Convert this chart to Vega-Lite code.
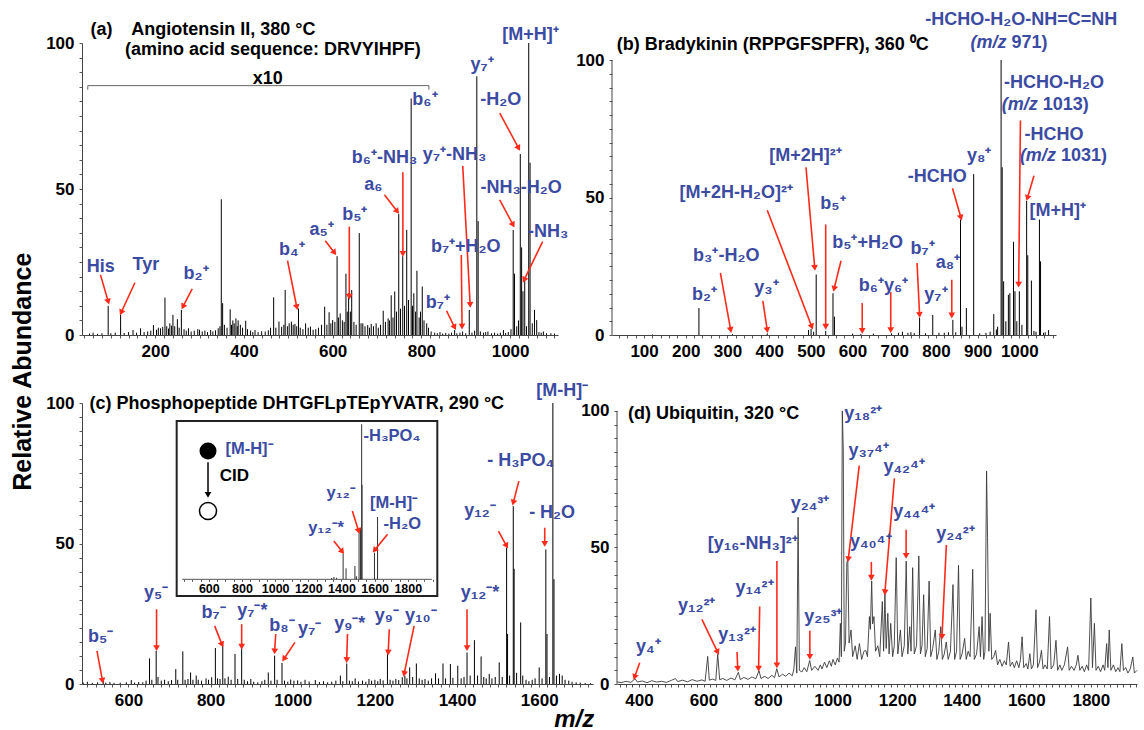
{
"$schema":"https://vega.github.io/schema/vega-lite/v6.json",
"padding":{"left":10,"top":11,"right":0,"bottom":0},
"config":{"font":"Liberation Sans","numberFormat":"d","view":{"stroke":null},
"axis":{"labelFont":"Liberation Sans","labelFontWeight":"bold","labelFontSize":17,"labelColor":"#000","domainColor":"#444","tickColor":"#555","tickSize":3,"grid":false,"labelOverlap":false,"labelPadding":5},
"text":{"font":"Liberation Sans"}},
"title":{"text":"Relative Abundance","orient":"left","anchor":"middle","fontSize":25,"fontWeight":"bold","font":"Liberation Sans","offset":10},
"vconcat":[{
"title":{"text":"m/z","orient":"bottom","anchor":"middle","fontSize":24,"fontWeight":"bold","fontStyle":"italic","font":"Liberation Sans","offset":0,"dx":-18},
"spacing":23,
"vconcat":[
{"hconcat":[
{"width":476,"height":292,
"encoding":{
"x":{"field":"x","type":"quantitative","title":null,"scale":{"domain":[35,1108],"nice":false,"zero":false},"axis":{"values":[40,60,80,100,120,140,160,180,200,220,240,260,280,300,320,340,360,380,400,420,440,460,480,500,520,540,560,580,600,620,640,660,680,700,720,740,760,780,800,820,840,860,880,900,920,940,960,980,1000,1020,1040,1060,1080,1100],"labelExpr":"datum.value % 200 === 0 ? datum.label : ''"}},
"y":{"field":"y","type":"quantitative","title":null,"scale":{"domain":[0,100],"nice":false},"axis":{"values":[0,5,10,15,20,25,30,35,40,45,50,55,60,65,70,75,80,85,90,95,100],"labelExpr":"datum.value % 50 === 0 ? datum.label : ''"}}},
"layer":[
{"data":{"name":"specA"},"mark":{"type":"rule","color":"#000","strokeWidth":1},"encoding":{"y2":{"datum":0}}},
{"data":{"name":"brA"},"mark":{"type":"rule","color":"#666","strokeWidth":1},"encoding":{"x2":{"field":"x2"},"y2":{"field":"y2"}}},
{"data":{"name":"arrA"},"mark":{"type":"rule","color":"#ff2a1a","strokeWidth":1.6},"encoding":{"x2":{"field":"x2"},"y2":{"field":"y2"}}},
{"data":{"name":"arrA"},"transform":[{"calculate":"atan2((datum.x2-datum.x)*0.4436,(datum.y2-datum.y)*2.92)*180/PI","as":"ang"}],"mark":{"type":"point","shape":"triangle-up","filled":true,"color":"#ff2a1a","size":45,"opacity":1},"encoding":{"x":{"field":"x2","type":"quantitative","title":null,"scale":{"domain":[35,1108],"nice":false,"zero":false}},"y":{"field":"y2","type":"quantitative","title":null,"scale":{"domain":[0,100],"nice":false}},"angle":{"field":"ang","type":"quantitative","scale":null}}},
{"data":{"name":"lblA"},"mark":{"type":"text","fontWeight":"bold","fontSize":18,"color":"#3b4ba2"},"encoding":{"text":{"field":"t"}}},
{"data":{"name":"ttlA"},"mark":{"type":"text","fontWeight":"bold","fontSize":18,"color":"#000","align":"left"},"encoding":{"text":{"field":"t"}}}
]},
{"width":444,"height":292,
"encoding":{
"x":{"field":"x","type":"quantitative","title":null,"scale":{"domain":[23,1088],"nice":false,"zero":false},"axis":{"values":[40,60,80,100,120,140,160,180,200,220,240,260,280,300,320,340,360,380,400,420,440,460,480,500,520,540,560,580,600,620,640,660,680,700,720,740,760,780,800,820,840,860,880,900,920,940,960,980,1000,1020,1040,1060,1080],"labelExpr":"datum.value % 100 === 0 ? datum.label : ''"}},
"y":{"field":"y","type":"quantitative","title":null,"scale":{"domain":[0,106.2],"nice":false},"axis":{"domain":false,"values":[0,5,10,15,20,25,30,35,40,45,50,55,60,65,70,75,80,85,90,95,100],"labelExpr":"datum.value % 50 === 0 ? datum.label : ''"}}},
"layer":[
{"data":{"values":[{"x":23,"y":0,"y2":100}]},"mark":{"type":"rule","color":"#444","strokeWidth":1},"encoding":{"y2":{"field":"y2"}}},
{"data":{"name":"specB"},"mark":{"type":"rule","color":"#000","strokeWidth":1},"encoding":{"y2":{"datum":0}}},
{"data":{"name":"arrB"},"mark":{"type":"rule","color":"#ff2a1a","strokeWidth":1.6},"encoding":{"x2":{"field":"x2"},"y2":{"field":"y2"}}},
{"data":{"name":"arrB"},"transform":[{"calculate":"atan2((datum.x2-datum.x)*0.4169,(datum.y2-datum.y)*2.75)*180/PI","as":"ang"}],"mark":{"type":"point","shape":"triangle-up","filled":true,"color":"#ff2a1a","size":45,"opacity":1},"encoding":{"x":{"field":"x2","type":"quantitative","title":null,"scale":{"domain":[23,1088],"nice":false,"zero":false}},"y":{"field":"y2","type":"quantitative","title":null,"scale":{"domain":[0,106.2],"nice":false}},"angle":{"field":"ang","type":"quantitative","scale":null}}},
{"data":{"name":"lblB"},"mark":{"type":"text","fontWeight":"bold","fontSize":18,"color":"#3b4ba2"},"encoding":{"text":{"field":"t"}}},
{"data":{"name":"mzB"},"mark":{"type":"text","fontWeight":"bold","fontStyle":"italic","fontSize":18,"color":"#3b4ba2","align":"right"},"encoding":{"text":{"field":"a"}}},
{"data":{"name":"mzB"},"mark":{"type":"text","fontWeight":"bold","fontSize":18,"color":"#3b4ba2","align":"left","dx":5},"encoding":{"text":{"field":"b"}}},
{"data":{"values":[{"x":34.3,"y":105.5,"t":"(b) Bradykinin (RPPGFSPFR), 360 ⁰C"}]},"mark":{"type":"text","fontWeight":"bold","fontSize":18,"color":"#000","align":"left"},"encoding":{"text":{"field":"t"}}}
]}
],"spacing":54,"bounds":"flush"},
{"hconcat":[
{"width":511,"height":281,
"resolve":{"scale":{"x":"independent","y":"independent"}},
"layer":[
{"encoding":{
"x":{"field":"x","type":"quantitative","title":null,"scale":{"domain":[487,1731],"nice":false,"zero":false},"axis":{"values":[500,520,540,560,580,600,620,640,660,680,700,720,740,760,780,800,820,840,860,880,900,920,940,960,980,1000,1020,1040,1060,1080,1100,1120,1140,1160,1180,1200,1220,1240,1260,1280,1300,1320,1340,1360,1380,1400,1420,1440,1460,1480,1500,1520,1540,1560,1580,1600,1620,1640,1660,1680,1700,1720],"labelExpr":"datum.value % 200 === 0 ? datum.label : ''"}},
"y":{"field":"y","type":"quantitative","title":null,"scale":{"domain":[0,100],"nice":false},"axis":{"values":[0,5,10,15,20,25,30,35,40,45,50,55,60,65,70,75,80,85,90,95,100],"labelExpr":"datum.value % 50 === 0 ? datum.label : ''"}}},
"layer":[
{"data":{"name":"specC"},"mark":{"type":"rule","color":"#000","strokeWidth":1},"encoding":{"y2":{"datum":0}}},
{"data":{"name":"arrC"},"mark":{"type":"rule","color":"#ff2a1a","strokeWidth":1.6},"encoding":{"x2":{"field":"x2"},"y2":{"field":"y2"}}},
{"data":{"name":"arrC"},"transform":[{"calculate":"atan2((datum.x2-datum.x)*0.4108,(datum.y2-datum.y)*2.81)*180/PI","as":"ang"}],"mark":{"type":"point","shape":"triangle-up","filled":true,"color":"#ff2a1a","size":45,"opacity":1},"encoding":{"x":{"field":"x2","type":"quantitative","title":null,"scale":{"domain":[487,1731],"nice":false,"zero":false}},"y":{"field":"y2","type":"quantitative","title":null,"scale":{"domain":[0,100],"nice":false}},"angle":{"field":"ang","type":"quantitative","scale":null}}},
{"data":{"name":"lblC"},"mark":{"type":"text","fontWeight":"bold","fontSize":18,"color":"#3b4ba2"},"encoding":{"text":{"field":"t"}}},
{"data":{"values":[{"x":505.4,"y":99.6,"t":"(c) Phosphopeptide DHTGFLpTEpYVATR, 290 °C"}]},"mark":{"type":"text","fontWeight":"bold","fontSize":18,"color":"#000","align":"left"},"encoding":{"text":{"field":"t"}}}
]},
{"encoding":{
"x":{"field":"x","type":"quantitative","title":null,"scale":{"domain":[-165,2917],"nice":false,"zero":false},"axis":{"orient":"bottom","offset":-104.7,"domain":false,"values":[450,500,550,600,650,700,750,800,850,900,950,1000,1050,1100,1150,1200,1250,1300,1350,1400,1450,1500,1550,1600,1650,1700,1750,1800,1850,1900,1950],"labelExpr":"(datum.value % 200 === 0 && datum.value >= 600 && datum.value <= 1800) ? datum.label : ''","labelFontSize":12.5,"tickSize":2,"labelPadding":1,"zindex":1}},
"y":{"field":"y","type":"quantitative","title":null,"scale":{"domain":[-67.5,113.7],"nice":false,"zero":false},"axis":null}},
"layer":[
{"data":{"values":[{"x":406,"x2":1978,"y":-10.8,"y2":102.1}]},"mark":{"type":"rect","fill":"#fff","stroke":"#222","strokeWidth":2},"encoding":{"x2":{"field":"x2"},"y2":{"field":"y2"}}},
{"data":{"values":[{"x":439,"x2":1945,"y":0}]},"mark":{"type":"rule","color":"#555","strokeWidth":1},"encoding":{"x2":{"field":"x2"}}},
{"data":{"name":"specI"},"mark":{"type":"rule","color":"#333","strokeWidth":1},"encoding":{"y2":{"datum":0}}},
{"data":{"name":"arrI"},"mark":{"type":"rule","color":"#ff2a1a","strokeWidth":1.6},"encoding":{"x2":{"field":"x2"},"y2":{"field":"y2"}}},
{"data":{"name":"arrI"},"transform":[{"calculate":"atan2((datum.x2-datum.x)*0.1658,(datum.y2-datum.y)*1.55)*180/PI","as":"ang"}],"mark":{"type":"point","shape":"triangle-up","filled":true,"color":"#ff2a1a","size":45,"opacity":1},"encoding":{"x":{"field":"x2","type":"quantitative","title":null,"scale":{"domain":[-165,2917],"nice":false,"zero":false}},"y":{"field":"y2","type":"quantitative","title":null,"scale":{"domain":[-67.5,113.7],"nice":false,"zero":false}},"angle":{"field":"ang","type":"quantitative","scale":null}}},
{"data":{"values":[{"x":595,"y":75.5,"x2":595,"y2":54.5}]},"mark":{"type":"rule","color":"#000","strokeWidth":1.5},"encoding":{"y2":{"field":"y2"}}},
{"data":{"values":[{"x":595,"y":54.5}]},"mark":{"type":"point","shape":"triangle-down","filled":true,"color":"#000","size":45,"opacity":1}},
{"data":{"values":[{"x":595,"y":82.8}]},"mark":{"type":"point","shape":"circle","filled":true,"color":"#000","size":290,"opacity":1}},
{"data":{"values":[{"x":595,"y":44.1}]},"mark":{"type":"point","shape":"circle","filled":true,"fill":"#fff","stroke":"#000","strokeWidth":1.5,"size":290,"opacity":1}},
{"data":{"values":[{"x":753.8,"y":66.6,"t":"CID"}]},"mark":{"type":"text","fontWeight":"bold","fontSize":17,"color":"#000"},"encoding":{"text":{"field":"t"}}},
{"data":{"name":"lblI"},"mark":{"type":"text","fontWeight":"bold","fontSize":16.5,"color":"#3b4ba2"},"encoding":{"text":{"field":"t"}}}
]}
]},
{"width":520,"height":281,
"encoding":{
"x":{"field":"x","type":"quantitative","title":null,"scale":{"domain":[332,1943],"nice":false,"zero":false},"axis":{"values":[340,360,380,400,420,440,460,480,500,520,540,560,580,600,620,640,660,680,700,720,740,760,780,800,820,840,860,880,900,920,940,960,980,1000,1020,1040,1060,1080,1100,1120,1140,1160,1180,1200,1220,1240,1260,1280,1300,1320,1340,1360,1380,1400,1420,1440,1460,1480,1500,1520,1540,1560,1580,1600,1620,1640,1660,1680,1700,1720,1740,1760,1780,1800,1820,1840,1860,1880,1900,1920,1940],"labelExpr":"(datum.value % 200 === 0 && datum.value <= 1800) ? datum.label : ''"}},
"y":{"field":"y","type":"quantitative","title":null,"scale":{"domain":[0,102.9],"nice":false},"axis":{"domain":false,"values":[0,5,10,15,20,25,30,35,40,45,50,55,60,65,70,75,80,85,90,95,100],"labelExpr":"datum.value % 50 === 0 ? datum.label : ''"}}},
"layer":[
{"data":{"values":[{"x":332,"y":0,"y2":100}]},"mark":{"type":"rule","color":"#444","strokeWidth":1},"encoding":{"y2":{"field":"y2"}}},
{"data":{"name":"specD"},"mark":{"type":"line","color":"#3a3a3a","strokeWidth":0.9},"encoding":{}},
{"data":{"name":"arrD"},"mark":{"type":"rule","color":"#ff2a1a","strokeWidth":1.6},"encoding":{"x2":{"field":"x2"},"y2":{"field":"y2"}}},
{"data":{"name":"arrD"},"transform":[{"calculate":"atan2((datum.x2-datum.x)*0.3228,(datum.y2-datum.y)*2.731)*180/PI","as":"ang"}],"mark":{"type":"point","shape":"triangle-up","filled":true,"color":"#ff2a1a","size":45,"opacity":1},"encoding":{"x":{"field":"x2","type":"quantitative","title":null,"scale":{"domain":[332,1943],"nice":false,"zero":false}},"y":{"field":"y2","type":"quantitative","title":null,"scale":{"domain":[0,102.9],"nice":false}},"angle":{"field":"ang","type":"quantitative","scale":null}}},
{"data":{"name":"lblD"},"mark":{"type":"text","fontWeight":"bold","fontSize":18,"color":"#3b4ba2"},"encoding":{"text":{"field":"t"}}},
{"data":{"values":[{"x":366,"y":99,"t":"(d) Ubiquitin, 320 °C"}]},"mark":{"type":"text","fontWeight":"bold","fontSize":18,"color":"#000","align":"left"},"encoding":{"text":{"field":"t"}}}
]}
],"spacing":24,"bounds":"flush"}
]}],
"datasets":{
"specA":[{"x":52,"y":0.5},{"x":60,"y":0.8},{"x":70,"y":0.4},{"x":80,"y":0.6},{"x":94,"y":10},{"x":100,"y":0.6},{"x":110,"y":0.8},{"x":122,"y":6.9},{"x":130,"y":0.7},{"x":140,"y":1.0},{"x":150,"y":1.7},{"x":158,"y":0.8},{"x":167,"y":2.3},{"x":175,"y":1.0},{"x":183,"y":1.2},{"x":190,"y":1.5},{"x":196,"y":3.4},{"x":203,"y":1.8},{"x":207,"y":2.5},{"x":212,"y":2.3},{"x":217,"y":2.8},{"x":222,"y":12.8},{"x":226,"y":3.0},{"x":230,"y":2.2},{"x":233,"y":4},{"x":237,"y":3.2},{"x":240,"y":6.9},{"x":244,"y":3.0},{"x":250,"y":5.4},{"x":254,"y":2.5},{"x":259,"y":8.6},{"x":265,"y":2.0},{"x":270,"y":1.5},{"x":275,"y":2.3},{"x":281,"y":1.2},{"x":288,"y":1.5},{"x":296,"y":2.0},{"x":300,"y":1.8},{"x":306,"y":1.2},{"x":312,"y":1.5},{"x":318,"y":1.0},{"x":325,"y":1.7},{"x":330,"y":1.2},{"x":336,"y":1.6},{"x":342,"y":2.3},{"x":346,"y":3.0},{"x":349,"y":46.5},{"x":352,"y":10.9},{"x":356,"y":3.5},{"x":362,"y":2.5},{"x":369,"y":8.8},{"x":372,"y":3.5},{"x":375,"y":5},{"x":378,"y":4.0},{"x":382,"y":5.7},{"x":385,"y":3.0},{"x":387,"y":5},{"x":392,"y":3.5},{"x":397,"y":2.5},{"x":404,"y":4.9},{"x":408,"y":2.0},{"x":415,"y":1.5},{"x":420,"y":1.0},{"x":425,"y":1.7},{"x":432,"y":1.0},{"x":440,"y":1.3},{"x":448,"y":1.2},{"x":455,"y":1.6},{"x":460,"y":2.5},{"x":467,"y":12.9},{"x":472,"y":2.5},{"x":479,"y":4.6},{"x":485,"y":2.8},{"x":490,"y":3.5},{"x":493,"y":15.4},{"x":498,"y":3.0},{"x":502,"y":4.0},{"x":507,"y":4.6},{"x":511,"y":3.5},{"x":515,"y":3.8},{"x":519,"y":3.0},{"x":523,"y":9.1},{"x":527,"y":2.5},{"x":533,"y":2.0},{"x":539,"y":4},{"x":545,"y":2.5},{"x":550,"y":2.9},{"x":556,"y":1.8},{"x":562,"y":2.0},{"x":568,"y":2.5},{"x":575,"y":3.5},{"x":582,"y":9.7},{"x":587,"y":3.5},{"x":592,"y":7.8},{"x":596,"y":4.0},{"x":600,"y":5.1},{"x":605,"y":4.5},{"x":610,"y":27},{"x":613,"y":6},{"x":617,"y":7.4},{"x":622,"y":5.0},{"x":626,"y":4.5},{"x":630,"y":21},{"x":633,"y":8},{"x":636,"y":14.3},{"x":640,"y":8},{"x":643,"y":15.4},{"x":648,"y":4.5},{"x":653,"y":3.5},{"x":660,"y":34.9},{"x":664,"y":4.0},{"x":668,"y":4},{"x":673,"y":3},{"x":679,"y":3.4},{"x":683,"y":2.5},{"x":687,"y":3.8},{"x":692,"y":3.0},{"x":698,"y":4},{"x":703,"y":2.5},{"x":708,"y":3.5},{"x":714,"y":8.3},{"x":719,"y":4.5},{"x":725,"y":5.7},{"x":728,"y":5.0},{"x":732,"y":13.6},{"x":736,"y":6},{"x":740,"y":14.9},{"x":744,"y":8},{"x":749,"y":41.4},{"x":753,"y":9},{"x":758,"y":27},{"x":762,"y":10},{"x":767,"y":36},{"x":771,"y":12},{"x":777,"y":81},{"x":780,"y":10},{"x":783,"y":14.3},{"x":787,"y":8},{"x":790,"y":22},{"x":795,"y":6},{"x":798,"y":8},{"x":802,"y":16.6},{"x":806,"y":5},{"x":812,"y":4},{"x":816,"y":2.5},{"x":822,"y":1.2},{"x":830,"y":0.8},{"x":836,"y":0.6},{"x":842,"y":1},{"x":848,"y":0.5},{"x":855,"y":0.7},{"x":862,"y":0.5},{"x":868,"y":0.8},{"x":875,"y":1.7},{"x":880,"y":0.6},{"x":887,"y":0.8},{"x":893,"y":1.2},{"x":900,"y":0.6},{"x":908,"y":8.6},{"x":914,"y":0.8},{"x":920,"y":1.5},{"x":925,"y":88.6},{"x":928,"y":39},{"x":933,"y":1.2},{"x":940,"y":0.8},{"x":945,"y":1.0},{"x":950,"y":1.2},{"x":958,"y":0.6},{"x":965,"y":0.8},{"x":972,"y":0.5},{"x":978,"y":0.8},{"x":985,"y":1.7},{"x":990,"y":0.7},{"x":996,"y":1.0},{"x":1002,"y":2.0},{"x":1007,"y":36},{"x":1010,"y":21},{"x":1015,"y":3},{"x":1019,"y":5},{"x":1023,"y":62},{"x":1026,"y":30},{"x":1029,"y":15},{"x":1033,"y":18.9},{"x":1037,"y":3},{"x":1042,"y":100},{"x":1045,"y":59},{"x":1050,"y":4},{"x":1055,"y":8.6},{"x":1060,"y":5.1},{"x":1065,"y":1.0},{"x":1070,"y":0.8},{"x":1075,"y":1.2},{"x":1082,"y":0.6},{"x":1092,"y":0.6},{"x":1100,"y":0.5}],
"brA":[{"x":48,"y":85.4,"x2":817,"y2":85.4},{"x":48,"y":85.4,"x2":48,"y2":84},{"x":817,"y":85.4,"x2":817,"y2":84}],
"arrA":[{"x":76.7,"y":20.6,"x2":94.2,"y2":11.4},{"x":154.2,"y":17.9,"x2":123.3,"y2":7.7},{"x":283.3,"y":15.8,"x2":262.5,"y2":9.7},{"x":498.3,"y":25.5,"x2":519.2,"y2":9.5},{"x":583.3,"y":32.3,"x2":604.2,"y2":28.2},{"x":637.5,"y":37.1,"x2":637.5,"y2":13.1},{"x":716.7,"y":48,"x2":745.8,"y2":42.3},{"x":758.3,"y":55.7,"x2":758.3,"y2":27.8},{"x":893.3,"y":57.9,"x2":910,"y2":10.3},{"x":890,"y":27.4,"x2":891.7,"y2":2.9},{"x":856.7,"y":8.3,"x2":875,"y2":2.6},{"x":976.7,"y":76,"x2":1019.2,"y2":64},{"x":976.7,"y":46.3,"x2":1006.7,"y2":37.7},{"x":1073.3,"y":32,"x2":1031.7,"y2":18.9}],
"lblA":[{"x":77.5,"y":23.4,"t":"His"},{"x":179,"y":24,"t":"Tyr"},{"x":292,"y":21,"t":"b₂⁺"},{"x":508,"y":29,"t":"b₄⁺"},{"x":575,"y":36,"t":"a₅⁺"},{"x":650,"y":41,"t":"b₅⁺"},{"x":692,"y":51.4,"t":"a₆"},{"x":717,"y":60.6,"t":"b₆⁺-NH₃"},{"x":808,"y":80.6,"t":"b₆⁺"},{"x":937,"y":92.6,"t":"y₇⁺"},{"x":1046,"y":102.9,"t":"[M+H]⁺"},{"x":979,"y":80.6,"t":"-H₂O"},{"x":875,"y":61.7,"t":"y₇⁺-NH₃"},{"x":1025,"y":50.3,"t":"-NH₃-H₂O"},{"x":1086,"y":35.4,"t":"-NH₃"},{"x":900,"y":30.3,"t":"b₇⁺+H₂O"},{"x":837,"y":10.9,"t":"b₇⁺"}],
"ttlA":[{"x":54,"y":104.6,"t":"(a)"},{"x":146,"y":104.6,"t":"Angiotensin II, 380 °C"},{"x":132,"y":97.5,"t":"(amino acid sequence: DRVYIHPF)"},{"x":420,"y":87.8,"t":"x10"}],
"specB":[{"x":120,"y":0.2},{"x":231.5,"y":9.8},{"x":312,"y":0.3},{"x":395.4,"y":0.6},{"x":494.4,"y":1.8},{"x":500.5,"y":2.2},{"x":506.7,"y":1.2},{"x":512.8,"y":22},{"x":535.6,"y":1.5},{"x":553.1,"y":15.2},{"x":556.6,"y":6.7},{"x":600,"y":0.5},{"x":620,"y":0.4},{"x":650,"y":0.5},{"x":693.3,"y":0.6},{"x":710,"y":0.8},{"x":719.6,"y":1.2},{"x":732.8,"y":0.8},{"x":740,"y":1.0},{"x":748,"y":0.7},{"x":760.8,"y":6.3},{"x":775,"y":0.6},{"x":792.4,"y":7.3},{"x":807.3,"y":0.8},{"x":820,"y":0.8},{"x":830,"y":1.0},{"x":840.6,"y":5.5},{"x":847.6,"y":1.0},{"x":859,"y":42},{"x":862.5,"y":3},{"x":873,"y":9.8},{"x":890.5,"y":58.5},{"x":905,"y":0.6},{"x":920,"y":0.8},{"x":930,"y":1.2},{"x":938.7,"y":7.6},{"x":945,"y":2},{"x":948,"y":3.0},{"x":956.3,"y":100},{"x":958.9,"y":61},{"x":962.4,"y":19.5},{"x":967.7,"y":5},{"x":973.8,"y":14.6},{"x":977.3,"y":15.2},{"x":986.1,"y":33.9},{"x":989.6,"y":15.9},{"x":994,"y":5},{"x":1000.1,"y":15.9},{"x":1006.2,"y":3.7},{"x":1017.6,"y":48.8},{"x":1020.3,"y":29},{"x":1029,"y":19.8},{"x":1035.1,"y":1.5},{"x":1040,"y":1.2},{"x":1048.3,"y":42},{"x":1050.9,"y":26.8},{"x":1058,"y":0.8},{"x":1062,"y":1.0},{"x":1070.2,"y":1.8}],
"arrB":[{"x":283,"y":22.6,"x2":307.7,"y2":1.8},{"x":384.8,"y":12.4,"x2":395.4,"y2":1.8},{"x":395.4,"y":45.4,"x2":502.3,"y2":3},{"x":488.3,"y":61,"x2":509.3,"y2":24.4},{"x":535.6,"y":40.2,"x2":535.6,"y2":3},{"x":572.4,"y":27,"x2":555.7,"y2":16.8},{"x":623.2,"y":11.6,"x2":623.2,"y2":1.5},{"x":691.6,"y":15.6,"x2":691.6,"y2":1.8},{"x":754.7,"y":26.2,"x2":760.8,"y2":7.3},{"x":838,"y":20.1,"x2":838,"y2":7.1},{"x":839.7,"y":53.4,"x2":859.9,"y2":42.7},{"x":1002.7,"y":78,"x2":998.4,"y2":18.3},{"x":1035.1,"y":57.9,"x2":1019.4,"y2":49.8}],
"lblB":[{"x":1004.5,"y":114.4,"t":"-HCHO-H₂O-NH=C=NH"},{"x":1083,"y":91.5,"t":"-HCHO-H₂O"},{"x":1083,"y":72.9,"t":"-HCHO"},{"x":1092,"y":45.1,"t":"[M+H]⁺"},{"x":903.7,"y":65.2,"t":"y₈⁺"},{"x":803,"y":57.3,"t":"-HCHO"},{"x":487,"y":65.2,"t":"[M+2H]²⁺"},{"x":321,"y":51.8,"t":"[M+2H-H₂O]²⁺"},{"x":553,"y":47.6,"t":"b₅⁺"},{"x":636,"y":33.5,"t":"b₅⁺+H₂O"},{"x":297,"y":28.7,"t":"b₃⁺-H₂O"},{"x":244.6,"y":14.6,"t":"b₂⁺"},{"x":393.6,"y":17.1,"t":"y₃⁺"},{"x":674,"y":17.7,"t":"b₆⁺y₆⁺"},{"x":768,"y":31.1,"t":"b₇⁺"},{"x":800,"y":14.6,"t":"y₇⁺"},{"x":829,"y":26.2,"t":"a₈⁺"}],
"mzB":[{"x":969,"y":106.3,"a":"(m/z","b":"971)"},{"x":1044,"y":83.5,"a":"(m/z","b":"1013)"},{"x":1087.7,"y":65.2,"a":"(m/z","b":"1031)"}],
"specC":[{"x":490,"y":0.5},{"x":500,"y":0.8},{"x":512,"y":0.4},{"x":525,"y":0.6},{"x":538.7,"y":1.2},{"x":545,"y":0.5},{"x":555,"y":0.7},{"x":565,"y":0.4},{"x":580,"y":0.5},{"x":595,"y":0.6},{"x":607,"y":1.4},{"x":615,"y":0.5},{"x":625,"y":0.7},{"x":635,"y":0.6},{"x":643,"y":1.2},{"x":651.4,"y":9.1},{"x":657,"y":1.5},{"x":667.6,"y":11.8},{"x":672,"y":2.5},{"x":680,"y":1.2},{"x":688,"y":1.5},{"x":697,"y":1.0},{"x":705,"y":1.4},{"x":715.3,"y":5.3},{"x":720,"y":1.5},{"x":732.4,"y":11.6},{"x":738,"y":1.5},{"x":745,"y":1.8},{"x":751.4,"y":4.1},{"x":757,"y":1.5},{"x":765,"y":3},{"x":770,"y":1.5},{"x":778,"y":1.2},{"x":789,"y":2},{"x":795,"y":1.5},{"x":802.7,"y":2.4},{"x":811.7,"y":12.8},{"x":817,"y":2.0},{"x":823,"y":1.8},{"x":829.7,"y":14},{"x":835,"y":2.0},{"x":843,"y":2.6},{"x":850,"y":1.5},{"x":859.5,"y":10.7},{"x":866,"y":1.8},{"x":875.7,"y":12.8},{"x":882,"y":1.5},{"x":890,"y":1.0},{"x":898,"y":1.8},{"x":905,"y":0.8},{"x":915,"y":0.6},{"x":925,"y":1.0},{"x":932,"y":1.5},{"x":940.5,"y":4.1},{"x":947,"y":1.2},{"x":955.9,"y":10.1},{"x":962,"y":1.5},{"x":973.9,"y":7.5},{"x":980,"y":1.2},{"x":988,"y":0.8},{"x":995,"y":1.6},{"x":1003,"y":1.2},{"x":1012,"y":1.3},{"x":1020,"y":0.8},{"x":1030,"y":1.5},{"x":1040,"y":0.9},{"x":1055,"y":1.4},{"x":1065,"y":0.7},{"x":1075,"y":1.0},{"x":1085,"y":0.6},{"x":1095,"y":0.8},{"x":1105,"y":1.2},{"x":1116,"y":3},{"x":1122,"y":1.0},{"x":1131.5,"y":7.3},{"x":1138,"y":1.2},{"x":1145,"y":1.0},{"x":1152,"y":2},{"x":1160,"y":0.9},{"x":1170,"y":1.2},{"x":1178,"y":0.8},{"x":1185.6,"y":1.8},{"x":1192,"y":1.2},{"x":1200,"y":1.5},{"x":1207,"y":1.0},{"x":1213,"y":1.8},{"x":1220,"y":1.3},{"x":1230.6,"y":10.7},{"x":1237,"y":1.5},{"x":1244,"y":1.2},{"x":1251,"y":1.8},{"x":1258,"y":1.4},{"x":1266.7,"y":2.4},{"x":1273,"y":3},{"x":1278,"y":2.0},{"x":1284.7,"y":5.9},{"x":1292,"y":2.5},{"x":1301,"y":7.3},{"x":1308,"y":2.0},{"x":1315,"y":1.5},{"x":1322,"y":1.8},{"x":1330,"y":1.2},{"x":1338,"y":2.0},{"x":1347.7,"y":3.8},{"x":1355,"y":2.0},{"x":1365.8,"y":7.3},{"x":1372,"y":2.0},{"x":1383.8,"y":7.1},{"x":1390,"y":2.2},{"x":1401.8,"y":6.5},{"x":1410,"y":2.0},{"x":1417,"y":2.5},{"x":1424.3,"y":11.2},{"x":1432,"y":3.0},{"x":1442.3,"y":15.6},{"x":1450,"y":3.0},{"x":1458.6,"y":9.8},{"x":1465,"y":2.5},{"x":1471,"y":2.0},{"x":1478.4,"y":3.6},{"x":1485,"y":2.0},{"x":1493,"y":2.5},{"x":1502.7,"y":7.7},{"x":1510,"y":2.5},{"x":1520.7,"y":48.5},{"x":1523,"y":17.8},{"x":1528,"y":3},{"x":1536.9,"y":63.3},{"x":1539,"y":41},{"x":1545,"y":4},{"x":1554.9,"y":21.9},{"x":1560,"y":3},{"x":1568,"y":1.5},{"x":1575,"y":1.0},{"x":1583,"y":1.5},{"x":1590,"y":2.0},{"x":1600,"y":5.9},{"x":1607,"y":2},{"x":1616.2,"y":47.9},{"x":1619,"y":17.8},{"x":1625,"y":2.5},{"x":1633.3,"y":100},{"x":1636,"y":37.3},{"x":1642,"y":3},{"x":1649.5,"y":3.6},{"x":1656,"y":3},{"x":1663,"y":1.5},{"x":1672,"y":1.2},{"x":1680,"y":0.8},{"x":1690,"y":0.6},{"x":1700,"y":0.5},{"x":1712,"y":0.4},{"x":1725,"y":0.3}],
"arrC":[{"x":523.4,"y":11.8,"x2":536.9,"y2":1.2},{"x":668.5,"y":26.6,"x2":668.5,"y2":12.8},{"x":809.9,"y":20.7,"x2":827.9,"y2":14},{"x":875.7,"y":21.3,"x2":875.7,"y2":13.3},{"x":958.6,"y":17.8,"x2":955.9,"y2":11.6},{"x":1005.4,"y":14.8,"x2":978.4,"y2":8.9},{"x":1133.3,"y":17.8,"x2":1131.5,"y2":8.5},{"x":1235.1,"y":19.5,"x2":1232.4,"y2":11.2},{"x":1295.5,"y":20.7,"x2":1271.2,"y2":3.6},{"x":1424.3,"y":26.6,"x2":1424.3,"y2":12.8},{"x":1500.9,"y":54.4,"x2":1520.7,"y2":49.1},{"x":1550.5,"y":72.2,"x2":1536.9,"y2":64.5},{"x":1613.5,"y":55.6,"x2":1613.5,"y2":49.9}],
"lblC":[{"x":1656,"y":104.1,"t":"[M-H]⁻"},{"x":1555,"y":79.3,"t":"- H₃PO₄"},{"x":1456,"y":61.5,"t":"y₁₂⁻"},{"x":1631.5,"y":61,"t":"- H₂O"},{"x":1456,"y":32.5,"t":"y₁₂⁻*"},{"x":667.6,"y":32.5,"t":"y₅⁻"},{"x":532.4,"y":16.6,"t":"b₅⁻"},{"x":807.2,"y":25.4,"t":"b₇⁻"},{"x":901.8,"y":26,"t":"y₇⁻*"},{"x":973.9,"y":20.7,"t":"b₈⁻"},{"x":1041.4,"y":19.5,"t":"y₇⁻"},{"x":1138.7,"y":21.3,"t":"y₉⁻*"},{"x":1228.8,"y":24.3,"t":"y₉⁻"},{"x":1311.7,"y":24.3,"t":"y₁₀⁻"}],
"specI":[{"x":1340,"y":0.8},{"x":1354,"y":1.5},{"x":1370,"y":1.0},{"x":1410,"y":16.6},{"x":1427.6,"y":7.1},{"x":1481,"y":8.6},{"x":1490,"y":2},{"x":1506,"y":30.8},{"x":1514.6,"y":33},{"x":1521.6,"y":100},{"x":1524,"y":61},{"x":1599,"y":17.2},{"x":1617.5,"y":40.2}],
"arrI":[{"x":1465.5,"y":44.1,"x2":1503.5,"y2":31.2},{"x":1354,"y":24.7,"x2":1405,"y2":17.8},{"x":1677.6,"y":29,"x2":1599.4,"y2":18.7}],
"lblI":[{"x":845.5,"y":83.9,"t":"[M-H]⁻"},{"x":1704,"y":92.5,"t":"-H₃PO₄"},{"x":1398.6,"y":55.9,"t":"y₁₂⁻"},{"x":1717.6,"y":49.4,"t":"[M-H]⁻"},{"x":1767,"y":35.5,"t":"-H₂O"},{"x":1307,"y":33.3,"t":"y₁₂⁻*"}],
"specD":[{"x":332,"y":0.8},{"x":345,"y":0.5},{"x":360,"y":1.0},{"x":375,"y":0.6},{"x":388,"y":1.9},{"x":395,"y":0.7},{"x":410,"y":1.1},{"x":425,"y":0.5},{"x":440,"y":1.2},{"x":455,"y":0.7},{"x":470,"y":1.0},{"x":485,"y":0.6},{"x":500,"y":1.3},{"x":513,"y":2.0},{"x":520,"y":0.9},{"x":535,"y":1.4},{"x":550,"y":0.8},{"x":565,"y":1.6},{"x":580,"y":1.0},{"x":595,"y":1.5},{"x":605,"y":1.0},{"x":613,"y":10.1},{"x":618,"y":1.4},{"x":628,"y":1.8},{"x":638,"y":1.3},{"x":644,"y":10.9},{"x":650,"y":1.6},{"x":660,"y":2.0},{"x":672,"y":1.3},{"x":685,"y":2.2},{"x":697,"y":1.5},{"x":708,"y":4.3},{"x":714,"y":1.6},{"x":725,"y":2.4},{"x":738,"y":1.7},{"x":750,"y":2.6},{"x":762,"y":1.9},{"x":772,"y":4.9},{"x":778,"y":2.0},{"x":790,"y":2.8},{"x":800,"y":2.0},{"x":812,"y":3.2},{"x":820,"y":2.3},{"x":827,"y":5.6},{"x":834,"y":2.6},{"x":845,"y":3.6},{"x":855,"y":2.8},{"x":865,"y":4.0},{"x":875,"y":3.0},{"x":880,"y":5.5},{"x":885,"y":13.6},{"x":889,"y":4},{"x":893,"y":61.1},{"x":897,"y":5.0},{"x":905,"y":4.4},{"x":912,"y":6.0},{"x":920,"y":4.5},{"x":929,"y":8.6},{"x":935,"y":5.0},{"x":945,"y":6.5},{"x":955,"y":5.0},{"x":962,"y":7.0},{"x":967,"y":5.5},{"x":975,"y":8.0},{"x":982,"y":6.0},{"x":990,"y":8.5},{"x":996,"y":6.5},{"x":1001,"y":9.0},{"x":1008,"y":7.0},{"x":1015,"y":9.5},{"x":1020,"y":8},{"x":1024,"y":22.2},{"x":1027,"y":10},{"x":1030,"y":100},{"x":1033,"y":86},{"x":1036,"y":12},{"x":1040,"y":15},{"x":1044,"y":44.4},{"x":1047,"y":45.7},{"x":1051,"y":15},{"x":1057,"y":19.8},{"x":1062,"y":10},{"x":1070,"y":14},{"x":1076,"y":9},{"x":1083,"y":14.8},{"x":1090,"y":9},{"x":1097,"y":12},{"x":1103,"y":12.3},{"x":1108,"y":10},{"x":1114,"y":24.7},{"x":1117,"y":20},{"x":1121,"y":37.7},{"x":1124,"y":22},{"x":1128,"y":24.7},{"x":1133,"y":12},{"x":1140,"y":14},{"x":1146,"y":10},{"x":1154,"y":30.2},{"x":1158,"y":12},{"x":1162,"y":33.3},{"x":1166,"y":13},{"x":1171,"y":25.9},{"x":1175,"y":11},{"x":1180,"y":22.2},{"x":1186,"y":10},{"x":1191,"y":14},{"x":1197,"y":46.3},{"x":1202,"y":11},{"x":1210,"y":19.8},{"x":1215,"y":10},{"x":1222,"y":14},{"x":1228,"y":45},{"x":1233,"y":11},{"x":1239,"y":21},{"x":1243,"y":12},{"x":1248,"y":42.6},{"x":1253,"y":11},{"x":1260,"y":14},{"x":1267,"y":46.9},{"x":1272,"y":11},{"x":1277,"y":14},{"x":1282,"y":32.7},{"x":1287,"y":10},{"x":1293,"y":13},{"x":1299,"y":37.7},{"x":1304,"y":10},{"x":1310,"y":13},{"x":1318,"y":19.8},{"x":1323,"y":9},{"x":1329,"y":12},{"x":1335,"y":21},{"x":1340,"y":9},{"x":1346,"y":11},{"x":1352,"y":15.4},{"x":1358,"y":9},{"x":1365,"y":12},{"x":1373,"y":36.4},{"x":1378,"y":9},{"x":1384,"y":12},{"x":1390,"y":43.5},{"x":1395,"y":9},{"x":1401,"y":11},{"x":1409,"y":16.7},{"x":1414,"y":9},{"x":1420,"y":12},{"x":1426,"y":10},{"x":1434,"y":42},{"x":1439,"y":9},{"x":1446,"y":11},{"x":1454,"y":21},{"x":1458,"y":10},{"x":1463,"y":24.7},{"x":1468,"y":9},{"x":1472,"y":12},{"x":1477,"y":78},{"x":1480,"y":53.7},{"x":1484,"y":12},{"x":1488,"y":25.9},{"x":1493,"y":9},{"x":1499,"y":10},{"x":1505,"y":12.3},{"x":1511,"y":7},{"x":1518,"y":9},{"x":1525,"y":6.5},{"x":1532,"y":8.5},{"x":1538,"y":7},{"x":1545,"y":15.4},{"x":1550,"y":6.5},{"x":1557,"y":8},{"x":1563,"y":6},{"x":1570,"y":8.5},{"x":1577,"y":6},{"x":1582,"y":9},{"x":1587,"y":17.3},{"x":1592,"y":6},{"x":1600,"y":7.5},{"x":1605,"y":5.5},{"x":1611,"y":11.1},{"x":1616,"y":5.5},{"x":1622,"y":7},{"x":1630,"y":27.2},{"x":1635,"y":6},{"x":1641,"y":8},{"x":1647,"y":12.3},{"x":1652,"y":5.5},{"x":1658,"y":7},{"x":1665,"y":5.5},{"x":1672,"y":24.7},{"x":1677,"y":5.5},{"x":1685,"y":7},{"x":1692,"y":16},{"x":1697,"y":5},{"x":1704,"y":7},{"x":1710,"y":5},{"x":1718,"y":7},{"x":1728,"y":13.6},{"x":1733,"y":5},{"x":1740,"y":6.5},{"x":1748,"y":5},{"x":1755,"y":7},{"x":1760,"y":10.5},{"x":1766,"y":5},{"x":1773,"y":6.5},{"x":1780,"y":4.5},{"x":1787,"y":7},{"x":1793,"y":5},{"x":1800,"y":31.5},{"x":1805,"y":6},{"x":1811,"y":22.2},{"x":1816,"y":5},{"x":1823,"y":6.5},{"x":1830,"y":4.5},{"x":1838,"y":7},{"x":1843,"y":5},{"x":1849,"y":14.8},{"x":1853,"y":6},{"x":1857,"y":19.8},{"x":1862,"y":5},{"x":1870,"y":7},{"x":1877,"y":4.5},{"x":1884,"y":6},{"x":1890,"y":4.5},{"x":1896,"y":14.8},{"x":1901,"y":5},{"x":1908,"y":6},{"x":1915,"y":4},{"x":1922,"y":5.5},{"x":1930,"y":9.9},{"x":1935,"y":4},{"x":1943,"y":5}],
"arrD":[{"x":402.3,"y":7.8,"x2":386.4,"y2":2.5},{"x":595,"y":23.7,"x2":643.8,"y2":11.7},{"x":703.9,"y":11.7,"x2":706.1,"y2":5.6},{"x":774.1,"y":28.4,"x2":770.7,"y2":5.6},{"x":827.4,"y":45,"x2":827.4,"y2":6.8},{"x":929.5,"y":19.5,"x2":929.5,"y2":9.9},{"x":1082.5,"y":80,"x2":1048.5,"y2":45.7},{"x":1191.4,"y":75.3,"x2":1162,"y2":33.6},{"x":1120,"y":44.7,"x2":1120,"y2":38.9},{"x":1227.7,"y":56.5,"x2":1227.7,"y2":46.9},{"x":1352.4,"y":50.9,"x2":1338.8,"y2":17.3}],
"lblD":[{"x":1095,"y":98.8,"t":"y₁₈²⁺"},{"x":1112,"y":85.2,"t":"y₃₇⁴⁺"},{"x":1222,"y":79.3,"t":"y₄₂⁴⁺"},{"x":1253,"y":63,"t":"y₄₄⁴⁺"},{"x":930,"y":66,"t":"y₂₄³⁺"},{"x":1118,"y":51.9,"t":"y₄₀⁴⁺"},{"x":1380.7,"y":54.9,"t":"y₂₄²⁺"},{"x":752.5,"y":51.2,"t":"[y₁₆-NH₃]²⁺"},{"x":758,"y":35.2,"t":"y₁₄²⁺"},{"x":579,"y":28.4,"t":"y₁₂²⁺"},{"x":704,"y":17.9,"t":"y₁₃²⁺"},{"x":971,"y":24.7,"t":"y₂₅³⁺"},{"x":429,"y":13.6,"t":"y₄⁺"}]
}
}
